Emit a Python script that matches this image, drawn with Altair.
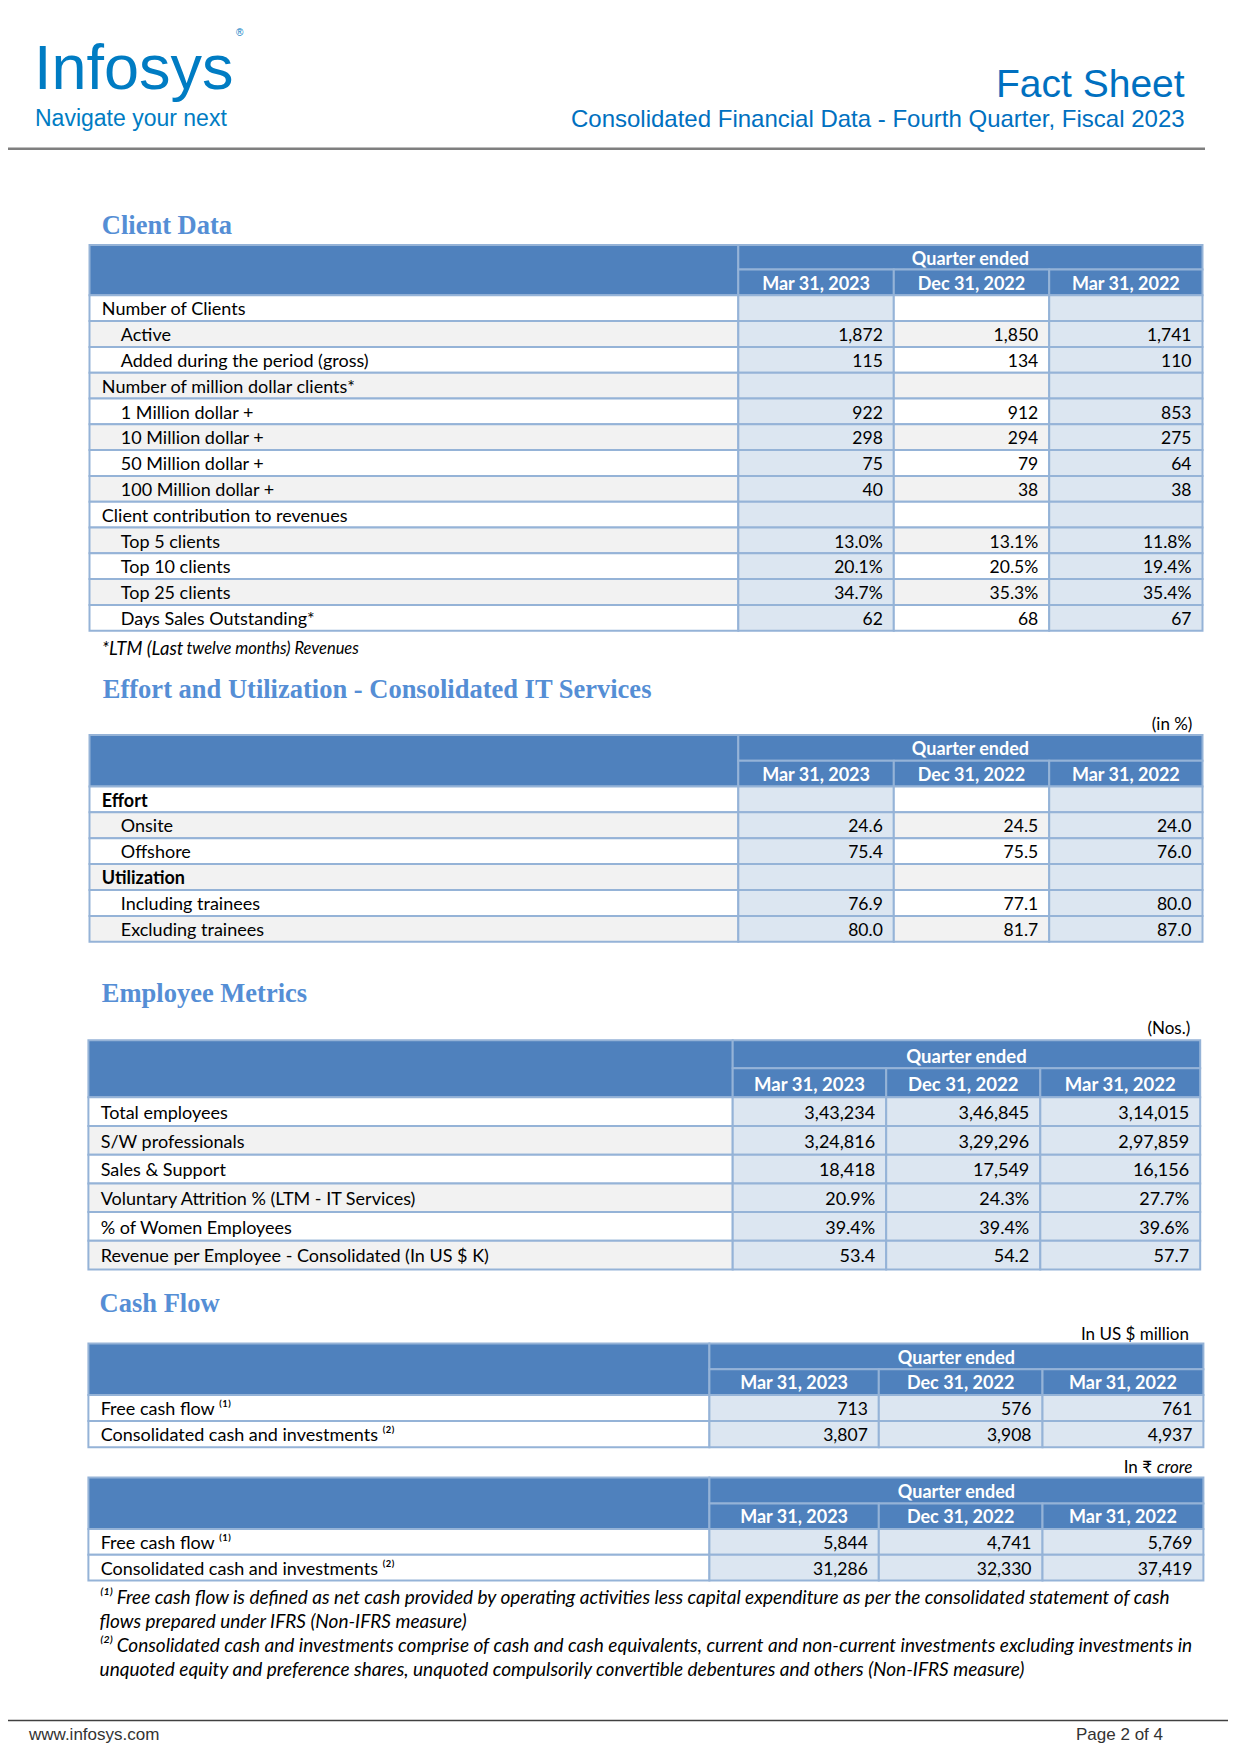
import altair as alt
import pandas as pd

# ---------------- data ----------------
QUARTERS = ["Mar 31, 2023", "Dec 31, 2022", "Mar 31, 2022"]

client_labels = ["Number of Clients", "Active", "Added during the period (gross)",
                 "Number of million dollar clients*", "1 Million dollar +", "10 Million dollar +",
                 "50 Million dollar +", "100 Million dollar +", "Client contribution to revenues",
                 "Top 5 clients", "Top 10 clients", "Top 25 clients", "Days Sales Outstanding*"]
client_level = [0, 1, 1, 0, 1, 1, 1, 1, 0, 1, 1, 1, 1]
client_mar23 = ["", "1,872", "115", "", "922", "298", "75", "40", "", "13.0%", "20.1%", "34.7%", "62"]
client_dec22 = ["", "1,850", "134", "", "912", "294", "79", "38", "", "13.1%", "20.5%", "35.3%", "68"]
client_mar22 = ["", "1,741", "110", "", "853", "275", "64", "38", "", "11.8%", "19.4%", "35.4%", "67"]

effort_labels = ["Effort", "Onsite", "Offshore", "Utilization", "Including trainees", "Excluding trainees"]
effort_level = [0, 1, 1, 0, 1, 1]
effort_bold = [True, False, False, True, False, False]
effort_mar23 = ["", "24.6", "75.4", "", "76.9", "80.0"]
effort_dec22 = ["", "24.5", "75.5", "", "77.1", "81.7"]
effort_mar22 = ["", "24.0", "76.0", "", "80.0", "87.0"]

emp_labels = ["Total employees", "S/W professionals", "Sales & Support",
              "Voluntary Attrition % (LTM - IT Services)", "% of Women Employees",
              "Revenue per Employee - Consolidated (In US $ K)"]
emp_mar23 = ["3,43,234", "3,24,816", "18,418", "20.9%", "39.4%", "53.4"]
emp_dec22 = ["3,46,845", "3,29,296", "17,549", "24.3%", "39.4%", "54.2"]
emp_mar22 = ["3,14,015", "2,97,859", "16,156", "27.7%", "39.6%", "57.7"]

cash_labels = ["Free cash flow \u207d\u00b9\u207e", "Consolidated cash and investments \u207d\u00b2\u207e"]
cash_usd_mar23 = ["713", "3,807"]
cash_usd_dec22 = ["576", "3,908"]
cash_usd_mar22 = ["761", "4,937"]
cash_inr_mar23 = ["5,844", "31,286"]
cash_inr_dec22 = ["4,741", "32,330"]
cash_inr_mar22 = ["5,769", "37,419"]

footnotes = [
    "\u207d\u00b9\u207e Free cash flow is defined as net cash provided by operating activities less capital expenditure as per the consolidated statement of cash",
    "flows prepared under IFRS (Non-IFRS measure)",
    "\u207d\u00b2\u207e Consolidated cash and investments comprise of cash and cash equivalents, current and non-current investments excluding investments in",
    "unquoted equity and preference shares, unquoted compulsorily convertible debentures and others (Non-IFRS measure)",
]

# ---------------- style ----------------
BLUE_HDR = "#4F81BD"
BORDER = "#95B3D7"
LIGHT = "#DCE6F1"
GRAY = "#F2F2F2"
WHITE = "#FFFFFF"
BODY = "Lato"
SERIF = "Liberation Serif"
ARIAL = "Liberation Sans"

STYLES = {
    "logo": dict(font=ARIAL, fontSize=63, color="#007CC3", align="left", baseline="alphabetic"),
    "reg": dict(font=ARIAL, fontSize=10, color="#007CC3", align="left", baseline="alphabetic"),
    "tag": dict(font=ARIAL, fontSize=23, color="#007CC3", align="left", baseline="alphabetic"),
    "fact": dict(font=ARIAL, fontSize=39, color="#0070C0", align="right", baseline="alphabetic"),
    "sub": dict(font=ARIAL, fontSize=24, color="#0070C0", align="right", baseline="alphabetic"),
    "sect": dict(font=SERIF, fontSize=26.5, fontWeight="bold", color="#558ED5", align="left", baseline="alphabetic"),
    "lab": dict(font=BODY, fontSize=18, color="#000000", align="left", baseline="middle"),
    "labb": dict(font=BODY, fontSize=18, fontWeight="bold", color="#000000", align="left", baseline="middle"),
    "val": dict(font=BODY, fontSize=17.5, color="#000000", align="right", baseline="middle"),
    "lab3": dict(font=BODY, fontSize=18, color="#000000", align="left", baseline="middle"),
    "val3": dict(font=BODY, fontSize=18, color="#000000", align="right", baseline="middle"),
    "hdr": dict(font=BODY, fontSize=18, fontWeight="bold", color="#FFFFFF", align="center", baseline="middle"),
    "hdr3": dict(font=BODY, fontSize=18.5, fontWeight="bold", color="#FFFFFF", align="center", baseline="middle"),
    "unit": dict(font=BODY, fontSize=17, color="#000000", align="right", baseline="middle"),
    "uniti": dict(font=BODY, fontSize=17, fontStyle="italic", color="#000000", align="right", baseline="middle"),
    "noteL": dict(font=BODY, fontSize=18.5, fontStyle="italic", color="#000000", align="left", baseline="middle"),
    "noteS": dict(font=BODY, fontSize=16.5, fontStyle="italic", color="#000000", align="left", baseline="middle"),
    "fnote": dict(font=BODY, fontSize=19, fontStyle="italic", color="#000000", align="left", baseline="middle"),
    "foot": dict(font=ARIAL, fontSize=17, color="#333333", align="left", baseline="middle"),
    "footr": dict(font=ARIAL, fontSize=17, color="#333333", align="right", baseline="middle"),
}

TXT_DY = 2.2  # optical offset of middle baseline

# ---------------- table layout ----------------
TABLES = [
    dict(labels=client_labels, level=client_level, bold=[False] * 13,
         vals=[client_mar23, client_dec22, client_mar22],
         top=245.0, h_qe=24.6, h_date=25.7, rh=25.8,
         edges=[89.5, 738.3, 893.8, 1049.2, 1202.5], band=True, mixed=True,
         lab="lab", labb="labb", val="val", hdr="hdr"),
    dict(labels=effort_labels, level=effort_level, bold=effort_bold,
         vals=[effort_mar23, effort_dec22, effort_mar22],
         top=735.0, h_qe=25.7, h_date=25.7, rh=25.9,
         edges=[89.5, 738.3, 893.8, 1049.2, 1202.5], band=True, mixed=True,
         lab="lab", labb="labb", val="val", hdr="hdr"),
    dict(labels=emp_labels, level=[0] * 6, bold=[False] * 6,
         vals=[emp_mar23, emp_dec22, emp_mar22],
         top=1040.3, h_qe=28.0, h_date=29.0, rh=28.7,
         edges=[88.4, 732.7, 886.2, 1040.3, 1200.2], band=True, mixed=False,
         lab="lab3", labb="lab3", val="val3", hdr="hdr3"),
    dict(labels=cash_labels, level=[0, 0], bold=[False, False],
         vals=[cash_usd_mar23, cash_usd_dec22, cash_usd_mar22],
         top=1343.4, h_qe=25.8, h_date=25.7, rh=26.2,
         edges=[88.4, 709.4, 878.8, 1042.5, 1203.4], band=False, mixed=False,
         lab="lab", labb="labb", val="val", hdr="hdr"),
    dict(labels=cash_labels, level=[0, 0], bold=[False, False],
         vals=[cash_inr_mar23, cash_inr_dec22, cash_inr_mar22],
         top=1477.6, h_qe=25.8, h_date=25.7, rh=25.7,
         edges=[88.4, 709.4, 878.8, 1042.5, 1203.4], band=False, mixed=False,
         lab="lab", labb="labb", val="val", hdr="hdr"),
]

rects = []
texts = []


def add_text(x, y, t, style):
    texts.append(dict(x=x, y=y, t=t, s=style))


for tb in TABLES:
    e = tb["edges"]
    top = tb["top"]
    qe_bot = top + tb["h_qe"]
    body_top = qe_bot + tb["h_date"]
    # header cells
    rects.append(dict(x=e[0], x2=e[1], y=top, y2=body_top, fill=BLUE_HDR))
    rects.append(dict(x=e[1], x2=e[4], y=top, y2=qe_bot, fill=BLUE_HDR))
    add_text((e[1] + e[4]) / 2, (top + qe_bot) / 2 + TXT_DY, "Quarter ended", tb["hdr"])
    for c in range(3):
        rects.append(dict(x=e[c + 1], x2=e[c + 2], y=qe_bot, y2=body_top, fill=BLUE_HDR))
        add_text((e[c + 1] + e[c + 2]) / 2, (qe_bot + body_top) / 2 + TXT_DY, QUARTERS[c], tb["hdr"])
    # body
    for i, lab in enumerate(tb["labels"]):
        y0 = body_top + i * tb["rh"]
        y1 = y0 + tb["rh"]
        ym = (y0 + y1) / 2 + TXT_DY
        odd = i % 2 == 1
        lab_fill = (GRAY if odd else WHITE) if tb["band"] else WHITE
        rects.append(dict(x=e[0], x2=e[1], y=y0, y2=y1, fill=lab_fill))
        indent = 31.3 if tb["level"][i] == 1 else 12.3
        add_text(e[0] + indent, ym, lab, tb["labb"] if tb["bold"][i] else tb["lab"])
        for c in range(3):
            if tb["mixed"] and c == 1:
                f = GRAY if odd else WHITE
            else:
                f = LIGHT
            rects.append(dict(x=e[c + 1], x2=e[c + 2], y=y0, y2=y1, fill=f))
            v = tb["vals"][c][i]
            if v:
                add_text(e[c + 2] - 11, ym, v, tb["val"])

# page header
add_text(34, 89, "Infosys", "logo")
add_text(236, 36, "\u00ae", "reg")
add_text(35, 126, "Navigate your next", "tag")
add_text(1184.6, 97, "Fact Sheet", "fact")
add_text(1184.6, 127, "Consolidated Financial Data - Fourth Quarter, Fiscal 2023", "sub")

# section titles
add_text(101.8, 233.5, "Client Data", "sect")
add_text(102.8, 698, "Effort and Utilization - Consolidated IT Services", "sect")
add_text(101.8, 1002, "Employee Metrics", "sect")
add_text(99.6, 1312, "Cash Flow", "sect")

# units and notes
add_text(101.8, 646.5 + TXT_DY, "*LTM (Last", "noteL")
add_text(186.5, 646.5 + TXT_DY, "twelve months) Revenues", "noteS")
add_text(1192.4, 722.6 + TXT_DY, "(in %)", "unit")
add_text(1190.2, 1026.9 + TXT_DY, "(Nos.)", "unit")
add_text(1189.0, 1332.3 + TXT_DY, "In US $ million", "unit")
add_text(1192.4, 1465.4 + TXT_DY, "crore", "uniti")
add_text(1152.0, 1465.4 + TXT_DY, "In \u20b9", "unit")

# footnotes
for fy, line in zip([1595.5, 1619.5, 1643.5, 1667.5], footnotes):
    add_text(99.6, fy + TXT_DY, line, "fnote")

# footer
add_text(29, 1735, "www.infosys.com", "foot")
add_text(1163, 1735, "Page 2 of 4", "footr")

rules = pd.DataFrame([
    dict(x=0, x2=1205, y=148.8, c="#7F7F7F", w=2.5),
    dict(x=5.6, x2=1236, y=1720.4, c="#404040", w=1.5),
])

xs = alt.Scale(domain=[8, 1228], nice=False, zero=False)
ys = alt.Scale(domain=[8, 1746], nice=False, zero=False, reverse=True)

rect_df = pd.DataFrame(rects)
rect_layer = alt.Chart(rect_df).mark_rect(stroke=BORDER, strokeWidth=2).encode(
    x=alt.X("x:Q", scale=xs, axis=None),
    x2="x2:Q",
    y=alt.Y("y:Q", scale=ys, axis=None),
    y2="y2:Q",
    fill=alt.Fill("fill:N", scale=None),
)

layers = [rect_layer]
for c, sub in rules.groupby("c"):
    layers.append(
        alt.Chart(sub).mark_rule(color=c, strokeWidth=float(sub["w"].iloc[0])).encode(
            x=alt.X("x:Q", scale=xs, axis=None), x2="x2:Q",
            y=alt.Y("y:Q", scale=ys, axis=None)))

text_df = pd.DataFrame(texts)
for sname, sub in text_df.groupby("s"):
    layers.append(
        alt.Chart(sub).mark_text(**STYLES[sname]).encode(
            x=alt.X("x:Q", scale=xs, axis=None),
            y=alt.Y("y:Q", scale=ys, axis=None),
            text="t:N"))

chart = alt.layer(*layers).properties(
    width=1220, height=1738, padding=0, background="white",
    autosize=alt.AutoSizeParams(type="none"),
).configure_view(stroke=None)

chart.save("out.html", embed_options={"renderer": "svg", "actions": False})
